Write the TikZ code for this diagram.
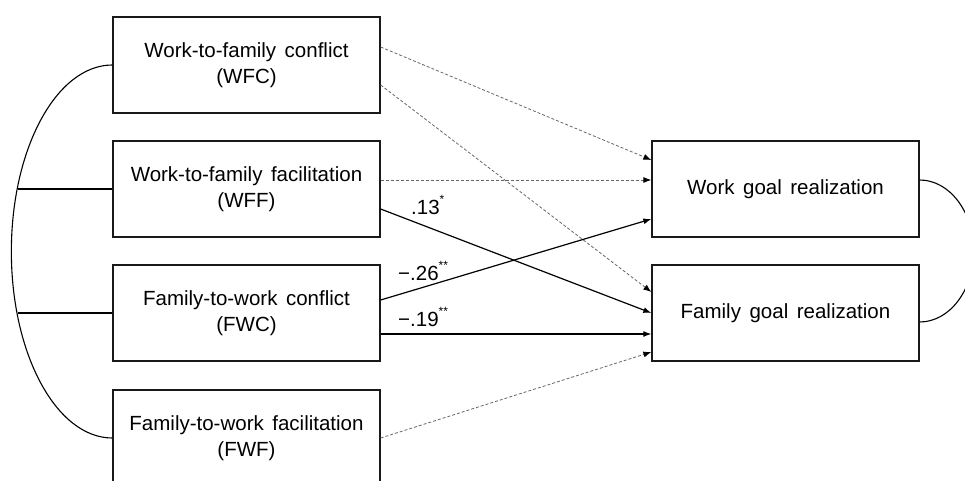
\documentclass[tikz,border=0pt]{standalone}
\usepackage{fontspec}
\setmainfont[WordSpace=1.5]{Liberation Sans}
\usetikzlibrary{arrows.meta,calc}
\newcommand{\mns}{\char"2212}
\newcommand{\sig}[1]{\raisebox{0.55em}{\fontsize{12}{12}\selectfont #1}}
\begin{document}
\begin{tikzpicture}[x=1pt,y=1pt,
  box/.style={draw=black!90, line width=1.3pt, minimum width=267pt, minimum height=96pt,
    inner sep=0pt, align=center, font=\fontsize{20.5}{26}\selectfont},
  solidarr/.style={line width=1.2pt, -{Latex[length=8pt,width=6pt]}},
  dasharr/.style={draw=black!60, line width=0.8pt, dash pattern=on 3pt off 2pt,
    -{Latex[length=8pt,width=6pt,fill=black,color=black]}},
  curve/.style={line width=1.1pt},
  lab/.style={anchor=west, inner sep=0pt, font=\fontsize{20.5}{24}\selectfont}]
\useasboundingbox (0,0) rectangle (965,480);

\node[box] (wfc) at (246.5,415) {Work-to-family conflict\\(WFC)};
\node[box] (wff) at (246.5,291) {Work-to-family facilitation\\(WFF)};
\node[box] (fwc) at (246.5,167) {Family-to-work conflict\\(FWC)};
\node[box] (fwf) at (246.5,42) {Family-to-work facilitation\\(FWF)};
\node[box] (work) at (785.5,291) {Work goal realization};
\node[box] (fam) at (785.5,167) {Family goal realization};

% left correlation arc
\draw[curve] (wfc.west) arc[start angle=90, end angle=270, x radius=101pt, y radius=186.5pt];
\coordinate (cwff) at (17.8,291);
\coordinate (cfwc) at (17.6,167);
\draw[curve] (cwff) -- (wff.west);
\draw[curve] (cfwc) -- (fwc.west);

% right correlation arc
\coordinate (rtop) at ($(work.east)+(0,9)$);
\draw[curve] (rtop) arc[start angle=90, end angle=-90, x radius=54pt, y radius=71pt] coordinate (rbot);

% paths
\draw[dasharr] ($(wfc.east)+(0,18)$) -- ($(work.west)+(0,29)$);
\draw[dasharr] ($(wfc.east)+(0,-20)$) -- ($(fam.west)+(0,21)$);
\draw[dasharr] ($(wff.east)+(0,9)$) -- ($(work.west)+(0,9)$);
\draw[solidarr] ($(wff.east)+(0,-20)$) -- (fam.west);
\draw[solidarr] ($(fwc.east)+(0,13)$) -- ($(work.west)+(0,-30)$);
\draw[solidarr] ($(fwc.east)+(0,-21)$) -- ($(fam.west)+(0,-21)$);
\draw[dasharr] (fwf.east) -- ($(fam.west)+(0,-39)$);

% coefficients
\node[lab] (l13) at (411,275) {.13\sig{*}};
\node[lab] (l26) at (398,209) {\mns.26\sig{**}};
\node[lab] (l19) at (398,163) {\mns.19\sig{**}};
\end{tikzpicture}
\end{document}
